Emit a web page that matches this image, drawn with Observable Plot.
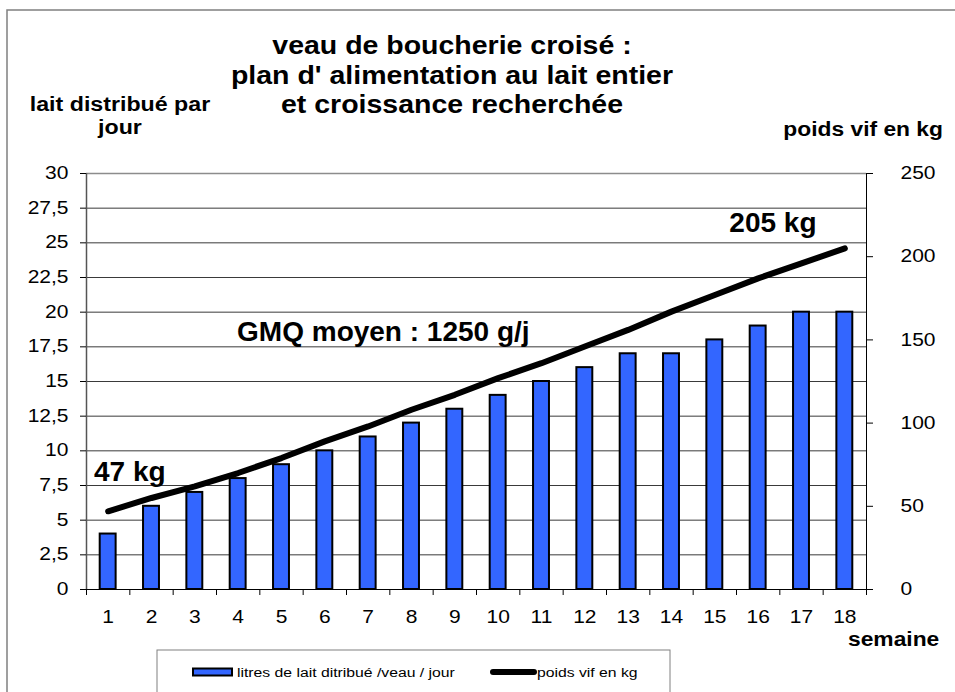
<!DOCTYPE html>
<html><head><meta charset="utf-8">
<script src="https://cdn.jsdelivr.net/npm/d3@7"></script>
<script src="https://cdn.jsdelivr.net/npm/@observablehq/plot@0.6"></script>
<style>html,body{margin:0;padding:0;background:#fff;overflow:hidden}</style>
</head><body><div id="chart"></div>
<script>
// ---- data ----
const semaines = [1,2,3,4,5,6,7,8,9,10,11,12,13,14,15,16,17,18];
const laitParJour = [4,6,7,8,9,10,11,12,13,14,15,16,17,17,18,19,20,20];
const poidsVif = [47,55,62,70,79,89,98,108,117,127,136,146,156,167,177,187,196,205];
const laitTicks = [0,2.5,5,7.5,10,12.5,15,17.5,20,22.5,25,27.5,30];
const poidsTicks = [0,50,100,150,200,250];
const titre = ["veau de boucherie croisé :", "plan d' alimentation au lait entier", "et croissance recherchée"];
const titreAxeGauche = ["lait distribué par", "jour"];
const titreAxeDroit = "poids vif en kg";
const titreAxeX = "semaine";
const legende = ["litres de lait ditribué /veau / jour", "poids vif en kg"];
const annotations = [
  {label: "47 kg", semaine: 1.5, lait: 8.45},
  {label: "205 kg", semaine: 16.34, lait: 26.4},
  {label: "GMQ moyen : 1250 g/j", semaine: 7.35, lait: 18.6}
];

// ---- setup ----
const FONT = "'Liberation Sans', Arial, Helvetica, sans-serif";
const W = 955, H = 692;
const laitMax = 30, poidsMax = 250;
const toLait = kg => kg * laitMax / poidsMax;
const table = semaines.map((s, i) => ({semaine: s, lait: laitParJour[i], poids: poidsVif[i]}));
const bornes = [0.5, ...semaines.map(s => s + 0.5)];
const BLUE = "#3366ff";

const svg = Plot.plot({
  width: W, height: H,
  marginLeft: 86, marginRight: 89, marginTop: 173, marginBottom: 103,
  style: {fontFamily: FONT, fontSize: "17.5px", color: "black", background: "white", overflow: "hidden"},
  x: {type: "linear", domain: [0.5, 18.5]},
  y: {domain: [0, laitMax]},
  marks: [
    Plot.ruleY(laitTicks.filter(t => t > 0 && t < laitMax), {stroke: "#3a3a3a", strokeWidth: 1}),
    Plot.ruleY([laitMax], {stroke: "#8c8c8c", strokeWidth: 1.5}),
    Plot.ruleX([0.5], {stroke: "#555", strokeWidth: 1.5}),
    Plot.rectY(table, {x1: d => d.semaine - 0.5, x2: d => d.semaine + 0.5, y: "lait",
      insetLeft: 13.7, insetRight: 13.7, fill: BLUE, stroke: "black", strokeWidth: 2}),
    Plot.ruleY([0], {stroke: "black", strokeWidth: 1}),
    Plot.ruleX([18.5], {stroke: "black", strokeWidth: 1}),
    Plot.line(table, {x: "semaine", y: d => toLait(d.poids), stroke: "black", strokeWidth: 6,
      strokeLinecap: "round", strokeLinejoin: "round"}),
    Plot.axisY({ticks: laitTicks, tickFormat: d => String(d).replace(".", ","), tickSize: 6, tickPadding: 12,
      label: null, fontSize: 17.5}),
    Plot.axisY({anchor: "right", ticks: poidsTicks.map(toLait), tickFormat: d => String(Math.round(d * poidsMax / laitMax)),
      tickSize: 6, tickPadding: 28, label: null, fontSize: 17.5}),
    Plot.axisX({ticks: semaines, tickSize: 0, tickPadding: 21, label: null, fontSize: 17.5}),
    Plot.axisX({ticks: bornes, tickSize: 6, tickFormat: () => "", label: null}),
    Plot.text(annotations, {x: "semaine", y: "lait", text: "label", fontWeight: "bold", fontSize: 28,
      fill: "black", ariaLabel: "annotation"})
  ]
});
document.getElementById("chart").appendChild(svg);

// horizontal stretch of glyphs (around each text's anchor) to mimic the reference's wide lettering
const NS = "http://www.w3.org/2000/svg";
function stretch(el, sx) {
  if (!el.textContent) return;
  const wrap = document.createElementNS(NS, "g");
  el.parentNode.insertBefore(wrap, el);
  wrap.appendChild(el);
  const b = wrap.getBBox();
  const anchor = getComputedStyle(el).textAnchor;
  const ax = anchor === "end" ? b.x + b.width : anchor === "middle" ? b.x + b.width / 2 : b.x;
  wrap.setAttribute("transform", `translate(${ax},0) scale(${sx},1) translate(${-ax},0)`);
}
svg.querySelectorAll('g[aria-label="annotation"] text').forEach(t => stretch(t, 1.17));
svg.querySelectorAll('g[aria-label$="tick label"] text').forEach(t => stretch(t, 1.2));

// ---- overlay: frame, titles, legend ----
const g = d3.select(svg).append("g").attr("font-family", FONT).attr("fill", "black");
g.append("rect").attr("x", 7).attr("y", 10).attr("width", 980).attr("height", 720)
  .attr("fill", "none").attr("stroke", "#808080").attr("stroke-width", 1.5);

function label(txt, x, y, size, sx, anchor, weight) {
  g.append("text").attr("transform", `translate(${x},${y}) scale(${sx},1)`)
    .attr("text-anchor", anchor).attr("font-size", size).attr("font-weight", weight).text(txt);
}
titre.forEach((t, i) => label(t, 452, 54 + i * 29.5, 25, 1.14, "middle", "bold"));
titreAxeGauche.forEach((t, i) => label(t, 120, 111 + i * 23, 19.5, 1.19, "middle", "bold"));
label(titreAxeDroit, 943, 136, 19.5, 1.17, "end", "bold");
label(titreAxeX, 848, 646, 19.5, 1.17, "start", "bold");

// legend
g.append("rect").attr("x", 157).attr("y", 650).attr("width", 513).attr("height", 80)
  .attr("fill", "white").attr("stroke", "#808080").attr("stroke-width", 1);
g.append("rect").attr("x", 193).attr("y", 668.5).attr("width", 39).attr("height", 7)
  .attr("fill", BLUE).attr("stroke", "black").attr("stroke-width", 2);
label(legende[0], 237, 677, 13.5, 1.167, "start", "normal");
g.append("line").attr("x1", 493).attr("x2", 534).attr("y1", 672).attr("y2", 672)
  .attr("stroke", "black").attr("stroke-width", 6).attr("stroke-linecap", "round");
label(legende[1], 537, 677, 13.5, 1.167, "start", "normal");
</script></body></html>
